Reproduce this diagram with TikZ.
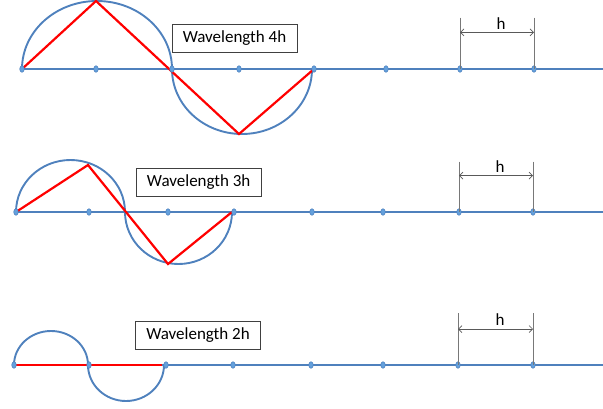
\documentclass[tikz,border=0pt]{standalone}
\usepackage{fontspec}
\setmainfont{Carlito}
\usetikzlibrary{arrows.meta}
\definecolor{axisblue}{RGB}{79,129,189}
\definecolor{dotblue}{RGB}{100,160,220}
\definecolor{dimgray}{RGB}{120,120,120}
\begin{document}
\begin{tikzpicture}[x=1pt,y=-1pt,
  axisline/.style={draw=axisblue, line width=2.4pt},
  wave/.style={draw=axisblue, line width=1.9pt},
  zigzag/.style={draw=red, line width=2.2pt, line join=miter},
  gridpt/.style={fill=dotblue, draw=axisblue, line width=0.5pt},
  labelbox/.style={draw=black!75, line width=0.6pt, minimum width=125pt, minimum height=28pt, inner sep=0pt, font=\fontsize{17}{19}\selectfont},
  extline/.style={draw=dimgray, line width=0.7pt},
  dimline/.style={draw=black!65, line width=0.7pt, {Straight Barb[length=3.5pt,width=7pt]}-{Straight Barb[length=3.5pt,width=7pt]}},
  hlabel/.style={anchor=base, inner sep=0pt, font=\fontsize{17}{19}\selectfont}
]
\useasboundingbox (0,0) rectangle (603,408);

% ---------- Row 1 : wavelength 4h ----------
\foreach \x [count=\i] in {22,96,172,239,314,386,460,534}
  \coordinate (a\i) at (\x,69);
\coordinate (aend) at (603,69);
\draw[axisline] (a1) -- (aend);
\draw[wave] (a1) arc[start angle=180, end angle=360, x radius=75, y radius=68];
\draw[wave] (a3) arc[start angle=180, end angle=0, x radius=70, y radius=65];
\coordinate (apeak) at (96,1);
\coordinate (atrough) at (239,134);
\draw[zigzag] (a1) -- (apeak) -- (atrough) -- (a5);
\foreach \i in {1,...,8} \filldraw[gridpt] (a\i) ellipse[x radius=2.3, y radius=3.3];
\node[labelbox] (box1) at (234.5,38) {Wavelength 4h};
\coordinate (a7top) at (460,17.7);
\coordinate (a8top) at (534,17.7);
\draw[extline] (a7top) -- (a7);
\draw[extline] (a8top) -- (a8);
\coordinate (a7dim) at (460,32.3);
\coordinate (a8dim) at (534,32.3);
\draw[dimline] (a7dim) -- (a8dim);
\node[hlabel] (h1) at (501,29.3) {h};

% ---------- Row 2 : wavelength 3h ----------
\foreach \x [count=\i] in {16,89,168,234,312,383,459,533}
  \coordinate (b\i) at (\x,212);
\coordinate (bend) at (603,212);
\draw[axisline] (b1) -- (bend);
\coordinate (bmid) at (125,212);
\draw[wave] (b1) arc[start angle=180, end angle=360, x radius=54.5, y radius=52];
\draw[wave] (bmid) arc[start angle=180, end angle=0, x radius=53.5, y radius=52];
\coordinate (bpeak) at (88,165);
\coordinate (btrough) at (168,264);
\coordinate (bright) at (232,212);
\draw[zigzag] (b1) -- (bpeak) -- (btrough) -- (bright);
\foreach \i in {1,...,8} \filldraw[gridpt] (b\i) ellipse[x radius=2.3, y radius=3.3];
\node[labelbox] (box2) at (198.7,182) {Wavelength 3h};
\coordinate (b7top) at (459,161.7);
\coordinate (b8top) at (533,161.7);
\draw[extline] (b7top) -- (b7);
\draw[extline] (b8top) -- (b8);
\coordinate (b7dim) at (459,175.7);
\coordinate (b8dim) at (533,175.7);
\draw[dimline] (b7dim) -- (b8dim);
\node[hlabel] (h2) at (500,172.3) {h};

% ---------- Row 3 : wavelength 2h ----------
\foreach \x [count=\i] in {14,89,166,233,311,383,458,533}
  \coordinate (c\i) at (\x,365);
\coordinate (cend) at (603,365);
\draw[axisline] (c1) -- (cend);
\coordinate (cmid) at (88,365);
\draw[wave] (c1) arc[start angle=180, end angle=360, x radius=37, y radius=34];
\draw[wave] (cmid) arc[start angle=180, end angle=0, x radius=38, y radius=36];
\coordinate (cright) at (162,365);
\draw[zigzag] (c1) -- (cright);
\foreach \i in {1,...,8} \filldraw[gridpt] (c\i) ellipse[x radius=2.3, y radius=3.3];
\node[labelbox] (box3) at (198,335) {Wavelength 2h};
\coordinate (c7top) at (458,313.3);
\coordinate (c8top) at (533,313.3);
\draw[extline] (c7top) -- (c7);
\draw[extline] (c8top) -- (c8);
\coordinate (c7dim) at (458,329);
\coordinate (c8dim) at (533,329);
\draw[dimline] (c7dim) -- (c8dim);
\node[hlabel] (h3) at (500,325) {h};
\end{tikzpicture}
\end{document}
